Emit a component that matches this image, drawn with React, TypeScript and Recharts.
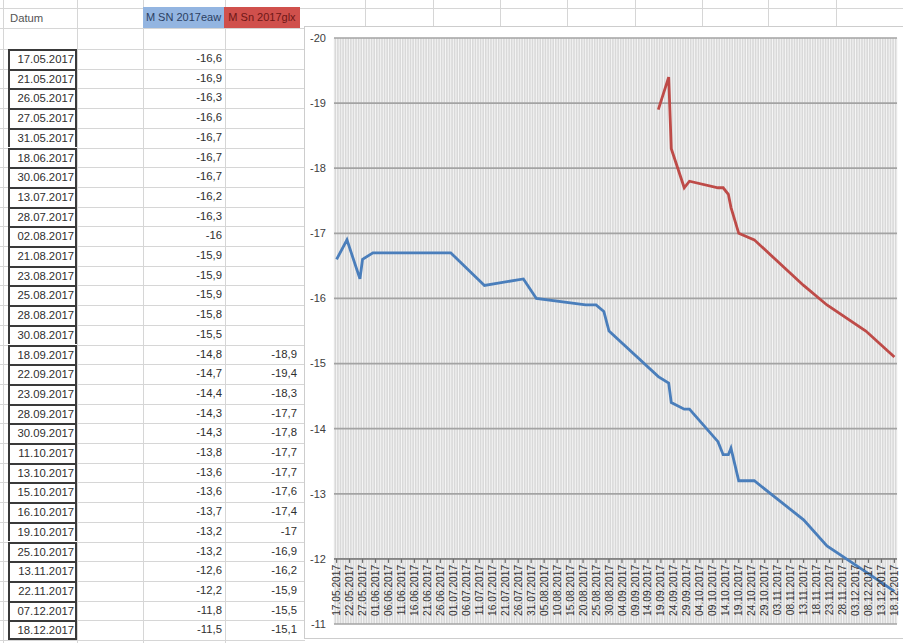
import React from "react";
import { LineChart, Line, XAxis, YAxis, CartesianGrid, ReferenceLine } from "recharts";

const dates = [
  "17.05.2017", "21.05.2017", "26.05.2017", "27.05.2017", "31.05.2017",
  "18.06.2017", "30.06.2017", "13.07.2017", "28.07.2017", "02.08.2017",
  "21.08.2017", "23.08.2017", "25.08.2017", "28.08.2017", "30.08.2017",
  "18.09.2017", "22.09.2017", "23.09.2017", "28.09.2017", "30.09.2017",
  "11.10.2017", "13.10.2017", "15.10.2017", "16.10.2017", "19.10.2017",
  "25.10.2017", "13.11.2017", "22.11.2017", "07.12.2017", "18.12.2017",
];
const eawValues = [
  -16.6, -16.9, -16.3, -16.6, -16.7, -16.7, -16.7, -16.2, -16.3, -16,
  -15.9, -15.9, -15.9, -15.8, -15.5, -14.8, -14.7, -14.4, -14.3, -14.3,
  -13.8, -13.6, -13.6, -13.7, -13.2, -13.2, -12.6, -12.2, -11.8, -11.5,
];
const glxValues: (number | null)[] = [
  null, null, null, null, null, null, null, null, null, null,
  null, null, null, null, null, -18.9, -19.4, -18.3, -17.7, -17.8,
  -17.7, -17.7, -17.6, -17.4, -17, -16.9, -16.2, -15.9, -15.5, -15.1,
];
const yTicks = [-20, -19, -18, -17, -16, -15, -14, -13, -12, -11];
const headerDate = "Datum";
const headerEaw = "M SN 2017eaw";
const headerGlx = "M Sn 2017glx";

const parseDate = (s: string) => {
  const [d, m, y] = s.split(".").map(Number);
  return new Date(y, m - 1, d);
};
const START = parseDate(dates[0]);
const dayIndex = (s: string) => Math.round((parseDate(s).getTime() - START.getTime()) / 86400000);
const LAST_DAY = dayIndex(dates[dates.length - 1]);
const allDays = Array.from({ length: LAST_DAY + 1 }, (_, i) => i);
const pad = (n: number) => (n < 10 ? "0" + n : String(n));
const dayLabel = (i: number) => {
  const d = new Date(START.getFullYear(), START.getMonth(), START.getDate() + i);
  return `${pad(d.getDate())}.${pad(d.getMonth() + 1)}.${d.getFullYear()}`;
};
const fmt = (v: number | null) => (v === null ? "" : String(v).replace(".", ","));

const chartData = dates.map((d, i) => ({ day: dayIndex(d), eaw: eawValues[i], glx: glxValues[i] }));

// chart geometry
const CW = 605;
const CH = 611;
const MT = 11;
const MB = 13;
const XH = 1;
const YW = 29;
const MR = 13;
const plotBottom = CH - MB - XH;
const unit = (plotBottom - MT) / (yTicks.length - 1);
const axisY = plotBottom - unit;

const DateTick = (props: any) => {
  const { x, payload } = props;
  const d = payload.value as number;
  if (d % 5 !== 0) return <g />;
  const ty = axisY + 6;
  return (
    <g>
      <line x1={x} x2={x} y1={axisY} y2={axisY + 4} stroke="#6f6f6f" strokeWidth={1.2} />
      <text
        x={x}
        y={ty}
        transform={`rotate(-90 ${x} ${ty})`}
        textAnchor="end"
        dy="0.35em"
        fontSize={10.2}
        fill="#333"
        fontFamily='"Liberation Sans", Arial, sans-serif'
      >
        {dayLabel(d)}
      </text>
    </g>
  );
};

const ROW0 = 49;
const RH = 19.7;
const textColor = "#2e2e2e";

export default function App() {
  const hLines: number[] = [8, 28];
  for (let i = 0; i <= dates.length; i++) hLines.push(ROW0 + i * RH);
  const vLines = [3, 77, 143, 225];
  const topCols = [365, 433, 500, 567, 635, 702, 768, 836];
  return (
    <div
      style={{
        position: "absolute",
        left: 0,
        top: 0,
        width: 903,
        height: 643,
        overflow: "hidden",
        background: "#fff",
        fontFamily: '"Liberation Sans", Arial, sans-serif',
        fontSize: 11.3,
        color: textColor,
      }}
    >
      {hLines.map((y, i) => (
        <div key={"h" + i} style={{ position: "absolute", left: 0, top: y, width: 305, height: 1, background: "#d6d6d6" }} />
      ))}
      <div style={{ position: "absolute", left: 305, top: 8, width: 600, height: 1, background: "#d6d6d6" }} />
      {vLines.map((x, i) => (
        <div key={"v" + i} style={{ position: "absolute", left: x, top: 0, width: 1, height: 643, background: "#d6d6d6" }} />
      ))}
      {topCols.map((x, i) => (
        <div key={"t" + i} style={{ position: "absolute", left: x, top: 0, width: 1, height: 27, background: "#d6d6d6" }} />
      ))}
      <div style={{ position: "absolute", left: 10, top: 8, height: 20, lineHeight: "20px", color: "#555" }}>{headerDate}</div>
      <div
        style={{
          position: "absolute", left: 143, top: 7, width: 81, height: 21, lineHeight: "21px",
          background: "#93b5e1", color: "#2b3f63", textAlign: "center", whiteSpace: "nowrap", fontSize: 11,
        }}
      >
        {headerEaw}
      </div>
      <div
        style={{
          position: "absolute", left: 224, top: 7, width: 76, height: 21, lineHeight: "21px",
          background: "#d0504c", color: "#6e1716", textAlign: "center", whiteSpace: "nowrap", fontSize: 11,
        }}
      >
        {headerGlx}
      </div>
      {dates.map((d, i) => {
        const top = ROW0 + i * RH;
        return (
          <React.Fragment key={d}>
            <div
              style={{
                position: "absolute", left: 8, top, width: 69, height: RH, boxSizing: "border-box",
                borderTop: "2px solid #3a3a3a", borderLeft: "2px solid #3a3a3a", borderRight: "2px solid #3a3a3a",
                borderBottom: i === dates.length - 1 ? "2px solid #3a3a3a" : "none",
                textAlign: "right", paddingRight: 1, lineHeight: RH - 2 + "px", background: "#fff",
              }}
            >
              {d}
            </div>
            <div style={{ position: "absolute", left: 143, top, width: 79, height: RH, lineHeight: RH + "px", textAlign: "right" }}>
              {fmt(eawValues[i])}
            </div>
            <div style={{ position: "absolute", left: 225, top, width: 72, height: RH, lineHeight: RH + "px", textAlign: "right" }}>
              {fmt(glxValues[i])}
            </div>
          </React.Fragment>
        );
      })}
      <div
        style={{
          position: "absolute", left: 305, top: 27, width: CW, height: CH, background: "#fff",
          boxShadow: "0 0 0 1px #cdcdcd",
        }}
      >
        <LineChart width={CW} height={CH} data={chartData} margin={{ top: MT, right: MR, bottom: MB, left: 0 }}>
          <CartesianGrid horizontal={false} vertical={true} stroke="#f6f6f6" strokeWidth={1} fill="#d9d9d9" />
          <CartesianGrid vertical={false} horizontal={true} stroke="#a3a3a3" strokeWidth={1.7} />
          <XAxis
            type="number"
            dataKey="day"
            domain={[-1, LAST_DAY + 1]}
            ticks={allDays}
            interval={0}
            tick={<DateTick />}
            tickLine={false}
            axisLine={false}
            height={XH}
          />
          <YAxis
            type="number"
            domain={[yTicks[0], yTicks[yTicks.length - 1]]}
            reversed
            ticks={yTicks}
            interval={0}
            width={YW}
            axisLine={false}
            tickLine={false}
            tick={{ fontSize: 11, fill: "#404040", fontFamily: '"Liberation Sans", Arial, sans-serif' }}
          />
          <ReferenceLine y={-12} stroke="#858585" strokeWidth={1.7} />
          <Line type="linear" dataKey="eaw" stroke="#4a7ebb" strokeWidth={2.8} dot={false} isAnimationActive={false} />
          <Line type="linear" dataKey="glx" stroke="#be4b48" strokeWidth={2.8} dot={false} isAnimationActive={false} />
        </LineChart>
      </div>
    </div>
  );
}
